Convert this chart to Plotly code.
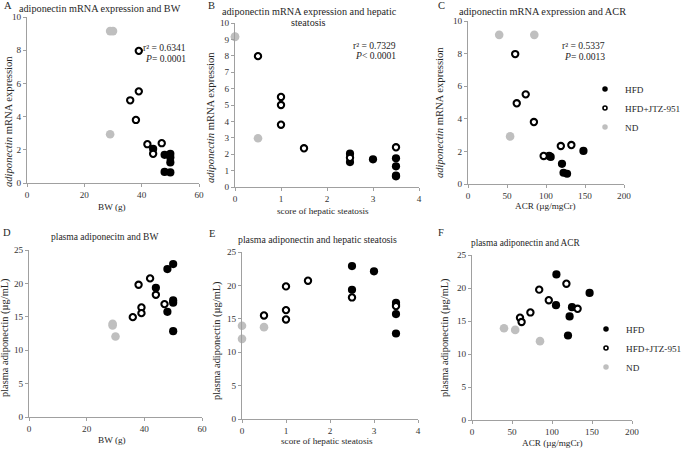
import plotly.graph_objects as go

# ---------------- data ----------------
# Panel A: BW (g) vs adiponectin mRNA expression
A_hfd_x = [44, 48, 50, 50, 50, 48, 50]
A_hfd_y = [2.05, 1.70, 1.76, 1.54, 1.24, 0.67, 0.64]
A_jtz_x = [39, 39, 36, 38, 42, 47, 44]
A_jtz_y = [7.96, 5.52, 4.98, 3.80, 2.34, 2.40, 1.76]
A_nd_x = [29, 30, 29]
A_nd_y = [9.15, 9.15, 2.94]

# Panel B: score of hepatic steatosis vs adiponectin mRNA expression
B_hfd_x = [2.5, 2.5, 3, 3.5, 3.5, 3.5, 3.5]
B_hfd_y = [2.03, 1.52, 1.69, 1.75, 1.26, 0.70, 0.65]
B_jtz_x = [0.5, 1, 1, 1, 1.5, 2.5, 3.5]
B_jtz_y = [7.98, 5.49, 5.00, 3.80, 2.36, 1.78, 2.42]
B_nd_x = [0, 0, 0.5]
B_nd_y = [9.18, 9.15, 2.97]

# Panel C: ACR (ug/mgCr) vs adiponectin mRNA expression
C_hfd_x = [104, 106, 120.5, 122.5, 127, 148]
C_hfd_y = [1.72, 1.66, 1.24, 0.69, 0.63, 2.03]
C_jtz_x = [60.5, 74, 62.5, 84.5, 97, 119, 132.5]
C_jtz_y = [7.97, 5.50, 4.95, 3.80, 1.72, 2.33, 2.39]
C_nd_x = [40, 85, 54]
C_nd_y = [9.15, 9.15, 2.92]

# Panel D: BW (g) vs plasma adiponectin
D_hfd_x = [48, 50, 44, 50, 50, 48, 50]
D_hfd_y = [22.15, 22.90, 19.35, 17.45, 17.10, 15.75, 12.85]
D_jtz_x = [38, 42, 44, 39, 39, 36, 47]
D_jtz_y = [19.80, 20.75, 18.30, 16.40, 15.55, 14.95, 16.90]
D_nd_x = [29, 29, 30]
D_nd_y = [13.95, 13.70, 12.05]

# Panel E: score of hepatic steatosis vs plasma adiponectin
E_hfd_x = [2.5, 2.5, 3, 3.5, 3.5, 3.5, 3.5]
E_hfd_y = [22.90, 19.35, 22.10, 17.40, 17.10, 15.70, 12.80]
E_jtz_x = [0.5, 1, 1, 1, 1.5, 2.5, 3.5]
E_jtz_y = [15.50, 19.85, 16.30, 14.90, 20.70, 18.20, 16.90]
E_nd_x = [0, 0, 0.5]
E_nd_y = [13.95, 12.00, 13.75]

# Panel F: ACR (ug/mgCr) vs plasma adiponectin
F_hfd_x = [105.5, 147, 105, 125, 122, 120]
F_hfd_y = [22.05, 19.25, 17.40, 17.10, 15.70, 12.80]
F_jtz_x = [84, 96, 118, 73, 60, 62, 132]
F_jtz_y = [19.75, 18.15, 20.65, 16.30, 15.50, 14.85, 16.85]
F_nd_x = [40, 54, 85]
F_nd_y = [13.90, 13.65, 11.95]

groups = ["HFD", "HFD+JTZ-951", "ND"]

bw_ticks = [0, 20, 40, 60]
score_ticks = [0, 1, 2, 3, 4]
acr_ticks = [0, 50, 100, 150, 200]
mrna_ticks_2 = [0, 2, 4, 6, 8, 10]
mrna_ticks_1 = [0, 1, 2, 3, 4, 5, 6, 7, 8, 9, 10]
plasma_ticks = [0, 5, 10, 15, 20, 25]

# ---------------- layout helpers ----------------
W, H = 685, 449
FONT = "Liberation Serif"
AXIS_COL = "#a0a0a0"
TXT = "#262626"
GREY = "#bfbfbf"


def xdom(a, b):
    return [a / W, b / W]


def ydom(top, bottom):
    return [1 - bottom / H, 1 - top / H]


panels = [
    dict(xd=(27, 199), yd=(17, 183), xt=bw_ticks, yt=mrna_ticks_2,
         data=((A_hfd_x, A_hfd_y), (A_jtz_x, A_jtz_y), (A_nd_x, A_nd_y))),
    dict(xd=(235, 419), yd=(23, 187), xt=score_ticks, yt=mrna_ticks_1,
         data=((B_hfd_x, B_hfd_y), (B_jtz_x, B_jtz_y), (B_nd_x, B_nd_y))),
    dict(xd=(468, 624), yd=(21, 184), xt=acr_ticks, yt=mrna_ticks_2,
         data=((C_hfd_x, C_hfd_y), (C_jtz_x, C_jtz_y), (C_nd_x, C_nd_y))),
    dict(xd=(29, 202), yd=(250, 417), xt=bw_ticks, yt=plasma_ticks,
         data=((D_hfd_x, D_hfd_y), (D_jtz_x, D_jtz_y), (D_nd_x, D_nd_y))),
    dict(xd=(242, 418), yd=(252, 419), xt=score_ticks, yt=plasma_ticks,
         data=((E_hfd_x, E_hfd_y), (E_jtz_x, E_jtz_y), (E_nd_x, E_nd_y))),
    dict(xd=(472, 632), yd=(255, 420), xt=acr_ticks, yt=plasma_ticks,
         data=((F_hfd_x, F_hfd_y), (F_jtz_x, F_jtz_y), (F_nd_x, F_nd_y))),
]


def marker_style(g, small=False):
    if g == 0:
        return dict(color="black", size=5.5 if small else 8.2, line=dict(width=0))
    if g == 1:
        return dict(color="white", size=4 if small else 6.3,
                    line=dict(color="black", width=1.6 if small else 2.1))
    return dict(color=GREY, size=5.5 if small else 8.6, line=dict(width=0))


fig = go.Figure()
layout = {}
for i, p in enumerate(panels, start=1):
    sfx = "" if i == 1 else str(i)
    xname, yname = "xaxis" + sfx, "yaxis" + sfx
    common = dict(showline=True, linecolor=AXIS_COL, linewidth=1, ticks="outside",
                  ticklen=3, tickcolor=AXIS_COL, tickwidth=1, showgrid=False,
                  zeroline=False, tickfont=dict(family=FONT, size=9.2, color="#333"),
                  fixedrange=True)
    layout[xname] = dict(common, domain=xdom(*p["xd"]), anchor="y" + sfx,
                         range=[p["xt"][0], p["xt"][-1]], tickvals=p["xt"])
    layout[yname] = dict(common, domain=ydom(*p["yd"]), anchor="x" + sfx,
                         range=[p["yt"][0], p["yt"][-1]], tickvals=p["yt"])
    for g, (xs, ys) in enumerate(p["data"]):
        fig.add_trace(go.Scatter(x=xs, y=ys, mode="markers", name=groups[g],
                                 marker=marker_style(g), cliponaxis=False,
                                 showlegend=False, xaxis="x" + sfx, yaxis="y" + sfx,
                                 hoverinfo="x+y"))

# legend entries (no data points of their own)
for lg, ax in (("legend", "3"), ("legend2", "6")):
    for g in range(3):
        fig.add_trace(go.Scatter(x=[None], y=[None], mode="markers", name=groups[g],
                                 marker=marker_style(g, small=True), legend=lg,
                                 xaxis="x" + ax, yaxis="y" + ax, showlegend=True))

ann = []


def text(t, x, y, size, xanchor="center", angle=0, color=TXT):
    ann.append(dict(text=t, x=x / W, y=1 - y / H, xref="paper", yref="paper",
                    xanchor=xanchor, yanchor="middle", showarrow=False, borderpad=0,
                    textangle=angle, font=dict(family=FONT, size=size, color=color)))


# panel letters
for lab, x, y in (("A", 3, 5), ("B", 207, 5), ("C", 437, 6),
                  ("D", 2, 232), ("E", 208, 233), ("F", 437, 232)):
    text(lab, x, y, 10.5, xanchor="left")

# titles
text("adiponectin mRNA expression and BW", 100, 8, 10.2)
text("adiponectin mRNA expression and hepatic", 309, 11, 10.2)
text("steatosis", 308, 22, 10.2)
text("adiponectin mRNA expression and ACR", 542, 11, 10.3)
text("plasma adiponecitn and BW", 104, 237, 9.5)
text("plasma adiponectin and hepatic steatosis", 317, 239, 9.8)
text("plasma adiponectin and ACR", 526, 243, 9.3)

# x-axis titles
text("BW (g)", 112, 207, 9.2)
text("score of hepatic steatosis", 323, 211, 9.2)
text("ACR (µg/mgCr)", 545, 206, 9.2)
text("BW (g)", 112, 440, 9.2)
text("score of hepatic steatosis", 327, 441, 9.2)
text("ACR (µg/mgCr)", 552, 443, 9.2)

# y-axis titles
ytitle_m = "<i>adiponectin</i> mRNA expression"
ytitle_p = "plasma adiponectin (µg/mL)"
text(ytitle_m, 8, 122, 10.6, angle=-90)
text(ytitle_m, 210, 118, 10.6, angle=-90)
text(ytitle_m, 440, 113, 10.6, angle=-90)
text(ytitle_p, 5, 338, 10.4, angle=-90)
text(ytitle_p, 217, 341, 10.4, angle=-90)
text(ytitle_p, 445, 338, 10.4, angle=-90)

# statistics
text("r² = 0.6341", 187, 47, 9.6, xanchor="right")
text("<i>P</i>= 0.0001", 187, 58, 9.6, xanchor="right")
text("r² = 0.7329", 397, 45, 9.6, xanchor="right")
text("<i>P</i>&lt; 0.0001", 397, 55, 9.6, xanchor="right")
text("r² = 0.5337", 606, 45, 9.6, xanchor="right")
text("<i>P</i>= 0.0013", 606, 57, 9.6, xanchor="right")

leg_common = dict(xref="paper", yref="paper", xanchor="left", yanchor="middle",
                  bgcolor="rgba(0,0,0,0)", borderwidth=0, tracegroupgap=0,
                  font=dict(family=FONT, size=9.2, color=TXT), itemsizing="trace",
                  itemwidth=30)

fig.update_layout(
    width=W, height=H, autosize=False,
    margin=dict(l=0, r=0, t=0, b=0, pad=0, autoexpand=False),
    paper_bgcolor="white", plot_bgcolor="white",
    showlegend=True,
    legend=dict(leg_common, x=585 / W, y=1 - 108 / H),
    legend2=dict(leg_common, x=586 / W, y=1 - 348 / H),
    annotations=ann,
    **layout,
)

fig.write_html("out.html", config={"displayModeBar": False},
               post_script="document.body.style.margin='0px';document.body.style.padding='0px';")
